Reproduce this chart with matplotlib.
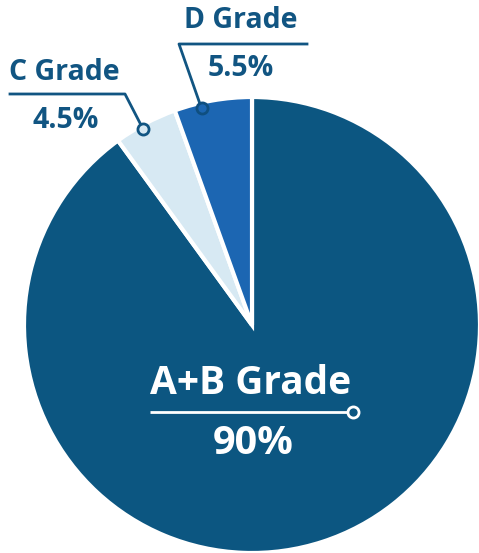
import matplotlib
matplotlib.use("Agg")
import matplotlib.pyplot as plt

# -----------------------------
# Data
# -----------------------------
grades = ["A+B Grade", "C Grade", "D Grade"]
shares = [90, 4.5, 5.5]
share_labels = ["90%", "4.5%", "5.5%"]
colors = ["#0c5681", "#d7e9f3", "#1c66b2"]

DARK = "#115582"
W, H = 479, 553

plt.rcParams["font.family"] = ["Open Sans", "DejaVu Sans"]

fig = plt.figure(figsize=(W / 100, H / 100), dpi=100)
ax = fig.add_axes([0, 0, 1, 1])

# y axis is inverted below, so counterclock=True runs clockwise on screen
ax.pie(shares, colors=colors, startangle=-90, counterclock=True,
       center=(252, 325), radius=228, frame=True,
       wedgeprops=dict(edgecolor="white", linewidth=3))
ax.set_xlim(0, W)
ax.set_ylim(H, 0)  # pixel coordinates, y down
ax.set_aspect("equal")
ax.axis("off")

# -----------------------------
# A+B label (inside, white)
# -----------------------------
ax.text(251, 383, grades[0], color="white", fontsize=28, fontweight="bold",
        ha="center", va="center")
ax.plot([150, 349], [412, 412], color="white", lw=2, solid_capstyle="butt")
ax.plot(353, 412, "o", ms=8, mfc=colors[0], mec="white", mew=2)
ax.text(253, 444, share_labels[0], color="white", fontsize=28.5, fontweight="bold",
        ha="center", va="center")

# -----------------------------
# C label (leader line)
# -----------------------------
ax.text(64, 72, grades[1], color=DARK, fontsize=20.5, fontweight="bold",
        ha="center", va="center")
ax.plot([10, 125, 141], [94, 94, 125], color=DARK, lw=2)
ax.plot(143, 129, "o", ms=8, mfc=colors[1], mec=DARK, mew=2)
ax.text(66, 121, share_labels[1], color=DARK, fontsize=20.5, fontweight="bold",
        ha="center", va="center")

# -----------------------------
# D label (leader line)
# -----------------------------
ax.text(241, 21, grades[2], color=DARK, fontsize=20.5, fontweight="bold",
        ha="center", va="center")
ax.plot([307, 179, 200], [44, 44, 104], color=DARK, lw=2)
ax.plot(202, 108, "o", ms=8, mfc=colors[2], mec="#0f4f80", mew=2)
ax.text(241, 69, share_labels[2], color=DARK, fontsize=20.5, fontweight="bold",
        ha="center", va="center")

fig.savefig("out.png", dpi=100)
